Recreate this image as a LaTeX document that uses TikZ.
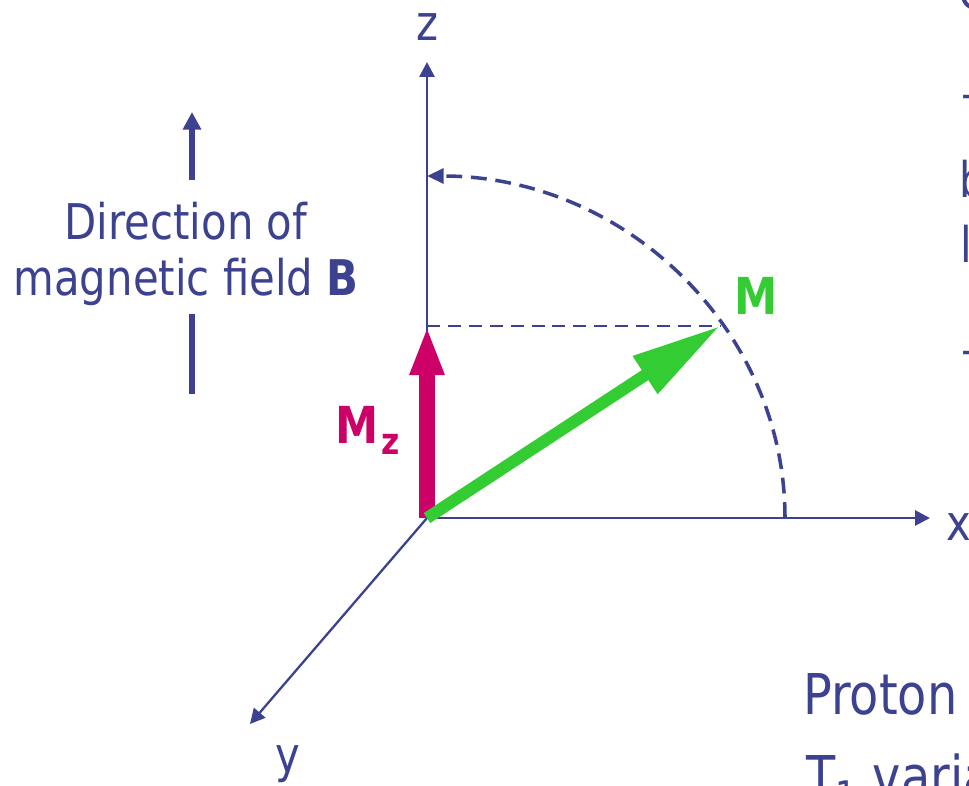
\documentclass[tikz,border=0pt]{standalone}
\usepackage{fontspec}
\setmainfont{DejaVu Sans}[FakeStretch=0.85]
\usetikzlibrary{arrows.meta}

\definecolor{navy}{RGB}{60,66,143}
\definecolor{mzpink}{RGB}{204,0,102}
\definecolor{mgreen}{RGB}{51,204,51}

\begin{document}
\begin{tikzpicture}[x=0.02cm, y=-0.02cm,
    every node/.style={inner sep=0pt, text=navy, font=\fontsize{28}{34}\selectfont},
    axis/.style={draw=navy, line width=1.6pt, -{Triangle[length=8.5pt, width=8.5pt]}},
    fieldline/.style={draw=navy, line width=3.6pt},
    bigtext/.style={font=\fontsize{32}{38}\selectfont}]

    \useasboundingbox (0,0) rectangle (969,785);
    \clip (0,0) rectangle (969,785);

    % origin and tips
    \coordinate (O) at (427,518);
    \coordinate (ztip) at (427,62);
    \coordinate (xtip) at (930,518);
    \coordinate (ytip) at (250,724);
    \coordinate (Mztip) at (427,326);
    \coordinate (Mtip) at (720,326);

    % axes
    \draw[axis] (O) -- (ztip);
    \draw[axis] (O) -- (xtip);
    \draw[axis, line width=1.3pt] (O) -- (ytip);
    \node[anchor=base] (zlab) at (427,40) {z};
    \node[anchor=base west] (xlab) at (946,540) {x};
    \node[anchor=base] (ylab) at (288,772) {y};

    % direction of B
    \coordinate (Btop) at (192,112);
    \coordinate (Bbot) at (192,394);
    \node[anchor=base] (dirtxt) at (186,239) {Direction of};
    \node[anchor=base] (magtxt) at (186,295) {magnetic field \textbf{B}};
    \draw[fieldline, -{Triangle[length=10pt, width=10pt]}, shorten <=12pt] (dirtxt.north -| Btop) -- (Btop);
    \draw[fieldline, shorten <=5pt] (magtxt.south -| Bbot) -- (Bbot);

    % tilt arc
    \draw[navy, line width=2pt, dash pattern=on 9pt off 5pt, -{Triangle[length=9.5pt, width=8.5pt]}]
        (785,518) arc[start angle=0, end angle=-90, x radius=358, y radius=342];
    \draw[navy, line width=1.4pt, dash pattern=on 7.4pt off 4.5pt] (Mztip) -- (Mtip);

    % Mz
    \draw[mzpink, line width=9pt, -{Triangle[length=28pt, width=18pt]}] (O) -- (Mztip);
    \node[anchor=base west, text=mzpink, font=\fontsize{29}{34}\selectfont\bfseries] (Mzlab) at (335,443)
        {M\kern2pt\raisebox{-6.8pt}{\fontsize{21}{21}\selectfont z}};

    % M
    \draw[mgreen, line width=6.8pt, -{Triangle[length=51pt, width=24pt]}] (O) -- (Mtip);
    \node[anchor=base west, text=mgreen, font=\fontsize{29}{34}\selectfont\bfseries] (Mlab) at (734,314) {M};

    % slide text cut off at the edge
    \node[anchor=base west] (cuta) at (958,9) {C};
    \node[anchor=base west] (cutb) at (961,110) {–};
    \node[anchor=base west] (cutc) at (959,197) {b};
    \node[anchor=base west] (cutd) at (960,262) {l};
    \node[anchor=base west] (cute) at (961,366) {–};
    \node[anchor=base west, bigtext] (proton) at (803,714) {Proton};
    \node[anchor=base west, bigtext] (tone) at (806,796) {T\textsubscript{1} varia};

\end{tikzpicture}
\end{document}
